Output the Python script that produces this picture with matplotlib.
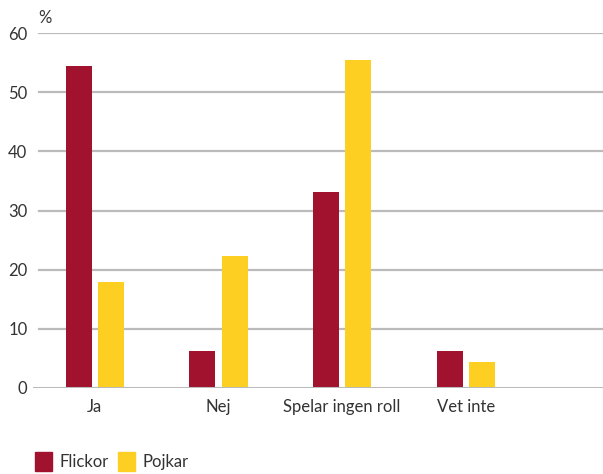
import numpy as np
import matplotlib.pyplot as plt
from matplotlib.patches import Patch

plt.rcParams['font.family'] = ['Lato', 'DejaVu Sans']

categories = ['Ja', 'Nej', 'Spelar ingen roll', 'Vet inte']
flickor = [54.5, 6.2, 33.2, 6.2]
pojkar = [17.9, 22.3, 55.5, 4.4]
series_names = ['Flickor', 'Pojkar']
yticks = [0, 10, 20, 30, 40, 50, 60]

red = '#A1122E'
yellow = '#FDCF22'
grid = '#BBBBBB'
txt = '#333333'
fs = 12

fig = plt.figure(figsize=(6.03, 4.74), dpi=100)
ax = fig.add_axes([33 / 603, 1 - 388 / 474, 1 - 33 / 603, (388 - 33) / 474])

x = np.arange(len(categories))
w = 0.21
off = 0.13
ax.bar(x - off, flickor, w, color=red, zorder=3)
ax.bar(x + off, pojkar, w, color=yellow, zorder=3)

ax.set_xlim(-0.5, 4.11)
ax.set_ylim(0, 60)
for t in yticks[1:]:
    ax.axhline(t, xmin=0.01, xmax=1, color=grid, lw=1.6, zorder=1)
ax.axhline(0, color=grid, lw=2.2, zorder=4)

for s in ax.spines.values():
    s.set_visible(False)
ax.set_xticks(x)
ax.set_xticklabels(categories, fontsize=fs, color=txt)
ax.set_yticks(yticks)
ax.set_yticklabels([str(t) for t in yticks], fontsize=fs, color=txt)
ax.tick_params(length=0)
ax.tick_params(axis='x', pad=8)
ax.tick_params(axis='y', pad=4)

fig.text(38 / 603, 1 - 18 / 474, '%', fontsize=fs, color=txt, va='center', ha='left')

handles = [Patch(color=red), Patch(color=yellow)]
fig.legend(handles, series_names, loc='upper left', bbox_to_anchor=(35 / 603, 1 - 452 / 474),
           frameon=False, ncol=2, fontsize=fs, handlelength=1.0, handleheight=1.35,
           handletextpad=0.45, columnspacing=0.6, borderpad=0, borderaxespad=0,
           labelcolor=txt)

fig.savefig('out.png', dpi=100)
